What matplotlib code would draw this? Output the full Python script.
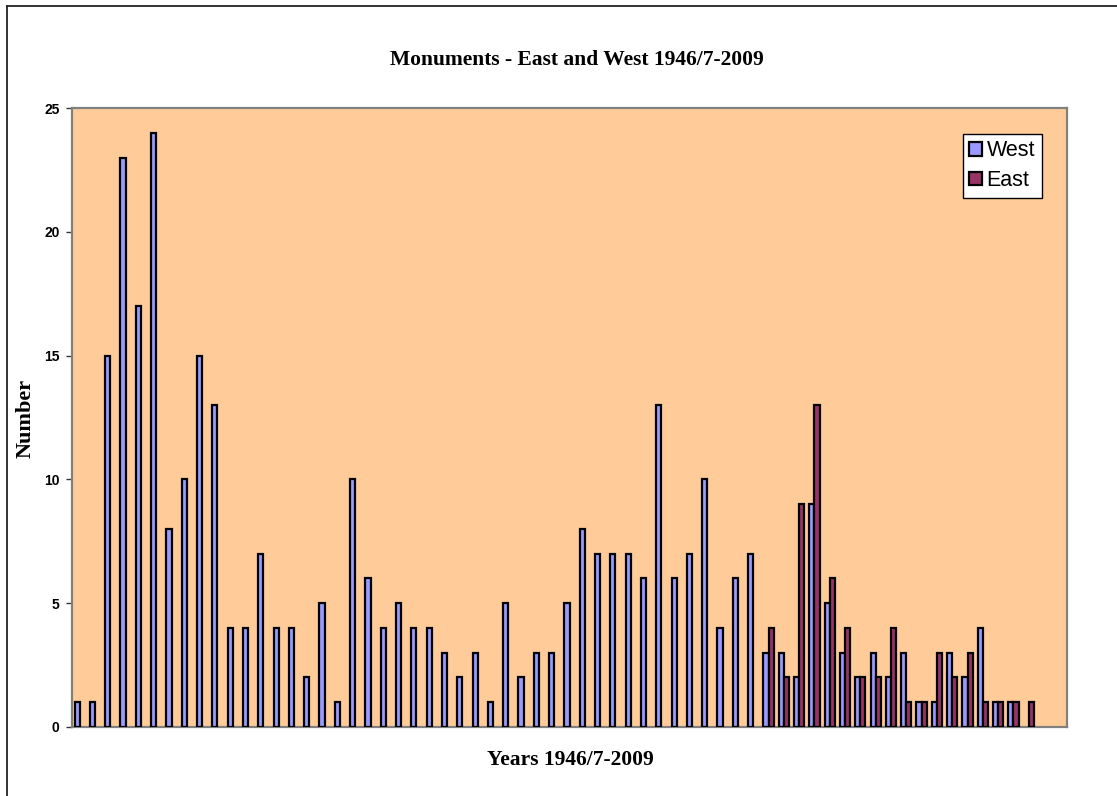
import numpy as np
import matplotlib.pyplot as plt
from matplotlib.lines import Line2D
from matplotlib.patches import Patch

# monuments per year, West and East (1946/7-2009)
years = list(range(1946, 2011))
west = [1, 1, 15, 23, 17, 24, 8, 10, 15, 13, 4, 4, 7, 4, 4, 2, 5, 1, 10, 6,
        4, 5, 4, 4, 3, 2, 3, 1, 5, 2, 3, 3, 5, 8, 7, 7, 7, 6, 13, 6,
        7, 10, 4, 6, 7, 3, 3, 2, 9, 5, 3, 2, 3, 2, 3, 1, 1, 3, 2, 4,
        1, 1, 0, 0, 0]
east = [0] * 45 + [4, 2, 9, 13, 6, 4, 2, 2, 4, 1, 1, 3, 2, 3, 1, 1, 1, 1, 0, 0]
yticks = [0, 5, 10, 15, 20, 25]
c_west, c_east = '#9999FF', '#993366'

W, H = 1117, 796
fig = plt.figure(figsize=(W / 100, H / 100), dpi=100)
fig.patch.set_facecolor('white')

# outer chart border (only top and left are visible)
fig.add_artist(Line2D([7 / W, 7 / W], [0, 1 - 6 / H], color='#222222', lw=1.3))
fig.add_artist(Line2D([7 / W, 1], [1 - 6 / H, 1 - 6 / H], color='#222222', lw=1.3))

left, right, top, bottom = 72, 1067, 108, 727
ax = fig.add_axes([left / W, 1 - bottom / H, (right - left) / W, (bottom - top) / H])
ax.set_facecolor('#FFCC99')

x = np.arange(len(years))
bw = 1 / 3
bw_bars = ax.bar(x - bw / 2, west, bw, color=c_west, edgecolor='black', linewidth=1.6, zorder=3)
be_bars = ax.bar(x + bw / 2, east, bw, color=c_east, edgecolor='black', linewidth=1.6, zorder=3)
# empty years: no bar at all
for p in list(bw_bars) + list(be_bars):
    if p.get_height() == 0:
        p.set_visible(False)

ax.set_xlim(-0.5, len(years) - 0.5)
ax.set_ylim(0, 25)
ax.set_yticks(yticks)
ax.set_xticks([])
ax.tick_params(axis='y', direction='out', length=4, width=1, color='#333333', pad=5)
for lab in ax.get_yticklabels():
    lab.set_fontfamily('Liberation Sans')
    lab.set_fontweight('bold')
    lab.set_fontsize(10)

for s in ax.spines.values():
    s.set_color('#808080')
    s.set_linewidth(1.6)

fig.text(577 / W, 1 - 60 / H, 'Monuments - East and West 1946/7-2009', ha='center', va='center',
         family='Liberation Serif', weight='bold', fontsize=15.5)
fig.text(570 / W, 1 - 760 / H, 'Years 1946/7-2009', ha='center', va='center',
         family='Liberation Serif', weight='bold', fontsize=15.5)
fig.text(26 / W, 1 - 418 / H, 'Number', ha='center', va='center', rotation=90,
         family='Liberation Serif', weight='bold', fontsize=16)

handles = [Patch(facecolor=c_west, edgecolor='black', linewidth=1.6, label='West'),
           Patch(facecolor=c_east, edgecolor='black', linewidth=1.6, label='East')]
leg = ax.legend(handles=handles, loc='upper left',
                bbox_to_anchor=((963 - left) / (right - left), (bottom - 134) / (bottom - top)),
                borderaxespad=0, fancybox=False, framealpha=1, edgecolor='black',
                prop={'family': 'Liberation Sans', 'size': 15.5},
                handlelength=0.6, handleheight=0.6, handletextpad=0.2, labelspacing=0.4,
                borderpad=0.3)
leg.get_frame().set_linewidth(1.0)

fig.savefig('out.png', dpi=100)
